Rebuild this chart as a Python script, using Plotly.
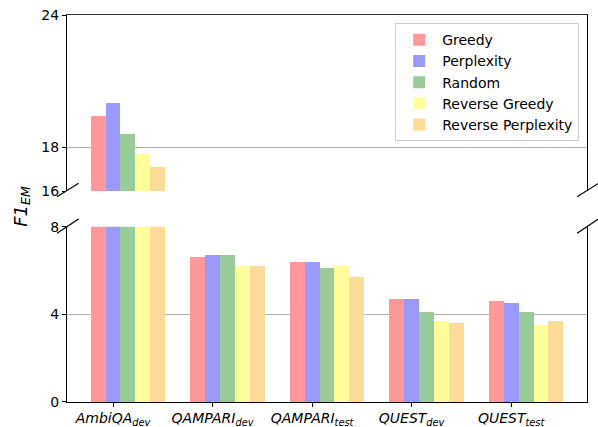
import plotly.graph_objects as go

categories = ["<i>AmbiQA<sub>dev</sub></i>", "<i>QAMPARI<sub>dev</sub></i>", "<i>QAMPARI<sub>test</sub></i>",
              "<i>QUEST<sub>dev</sub></i>", "<i>QUEST<sub>test</sub></i>"]
series_names = ["Greedy", "Perplexity", "Random", "Reverse Greedy", "Reverse Perplexity"]
greedy = [19.42, 6.62, 6.39, 4.71, 4.62]
perplexity = [20.0, 6.71, 6.39, 4.71, 4.53]
random_ = [18.59, 6.71, 6.12, 4.11, 4.11]
reverse_greedy = [17.7, 6.21, 6.21, 3.70, 3.52]
reverse_perplexity = [17.11, 6.21, 5.71, 3.61, 3.70]
series_values = [greedy, perplexity, random_, reverse_greedy, reverse_perplexity]
colors = ["#ff9999", "#9999ff", "#99cc99", "#ffff99", "#ffdb99"]

bottom_ticks = [0, 4, 8]
top_ticks = [16, 18, 24]

bar_w = 0.15
fig = go.Figure()
for k, (name, vals, col) in enumerate(zip(series_names, series_values, colors)):
    xs = [i + (k - 1) * bar_w for i in range(len(categories))]
    fig.add_trace(go.Bar(x=xs, y=vals, width=bar_w, name=name, marker=dict(color=col, line=dict(width=0)),
                         xaxis="x", yaxis="y", showlegend=True))
    fig.add_trace(go.Bar(x=xs, y=vals, width=bar_w, name=name, marker=dict(color=col, line=dict(width=0)),
                         xaxis="x2", yaxis="y2", showlegend=False))

font = dict(family="DejaVu Sans", size=14, color="black")
grid = "#b0b0b0"
fig.update_layout(
    width=598, height=427, autosize=False,
    margin=dict(l=67, r=11, t=15, b=25, pad=0, autoexpand=False),
    barmode="overlay",
    plot_bgcolor="white", paper_bgcolor="white",
    font=font,
    xaxis=dict(domain=[0, 1], range=[-0.4625, 4.7625], tickvals=list(range(len(categories))),
               ticktext=categories, showline=True, linecolor="black", linewidth=1.2,
               ticks="outside", ticklen=4, tickcolor="black", showgrid=False, zeroline=False,
               anchor="y", automargin=False, ticklabelstandoff=-1,
               tickfont=dict(family="DejaVu Sans", size=14)),
    yaxis=dict(domain=[0, 0.453], range=[0, 8], tickvals=bottom_ticks, showline=True, mirror=True,
               linecolor="black", linewidth=1.2, ticks="outside", ticklen=4, tickcolor="black",
               showgrid=True, gridcolor=grid, gridwidth=1, zeroline=False, anchor="x", automargin=False),
    xaxis2=dict(domain=[0, 1], range=[-0.4625, 4.7625], matches="x", side="top", showline=True,
                linecolor="#333333", linewidth=1.2, showticklabels=False, ticks="", showgrid=False,
                zeroline=False, anchor="y2", automargin=False),
    yaxis2=dict(domain=[0.545, 1], range=[16, 24], tickvals=top_ticks, showline=True, mirror=True,
                linecolor="black", linewidth=1.2, ticks="outside", ticklen=4, tickcolor="black",
                showgrid=True, gridcolor=grid, gridwidth=1, zeroline=False, anchor="x2", automargin=False),
    legend=dict(x=0.985, y=0.979, xanchor="right", yanchor="top", bgcolor="white",
                bordercolor="#cccccc", borderwidth=1, font=dict(family="DejaVu Sans", size=14),
                tracegroupgap=0, itemwidth=36),
    bargap=0,
)

fig.add_annotation(text="<i>F1<sub>EM</sub></i>", xref="paper", yref="paper", x=-0.115, y=0.505,
                   textangle=-90, showarrow=False, font=dict(family="DejaVu Sans", size=18, color="black"))

# break marks
for (x0, x1) in [(-0.0192, 0.0223), (0.981, 1.022)]:
    for (y0, y1) in [(0.5304, 0.565), (0.436, 0.473)]:
        fig.add_shape(type="line", xref="paper", yref="paper", x0=x0, x1=x1, y0=y0, y1=y1,
                      line=dict(color="black", width=1.2))

fig.write_html("out.html", post_script="document.body.style.margin='0';",
               config={"displayModeBar": False})
